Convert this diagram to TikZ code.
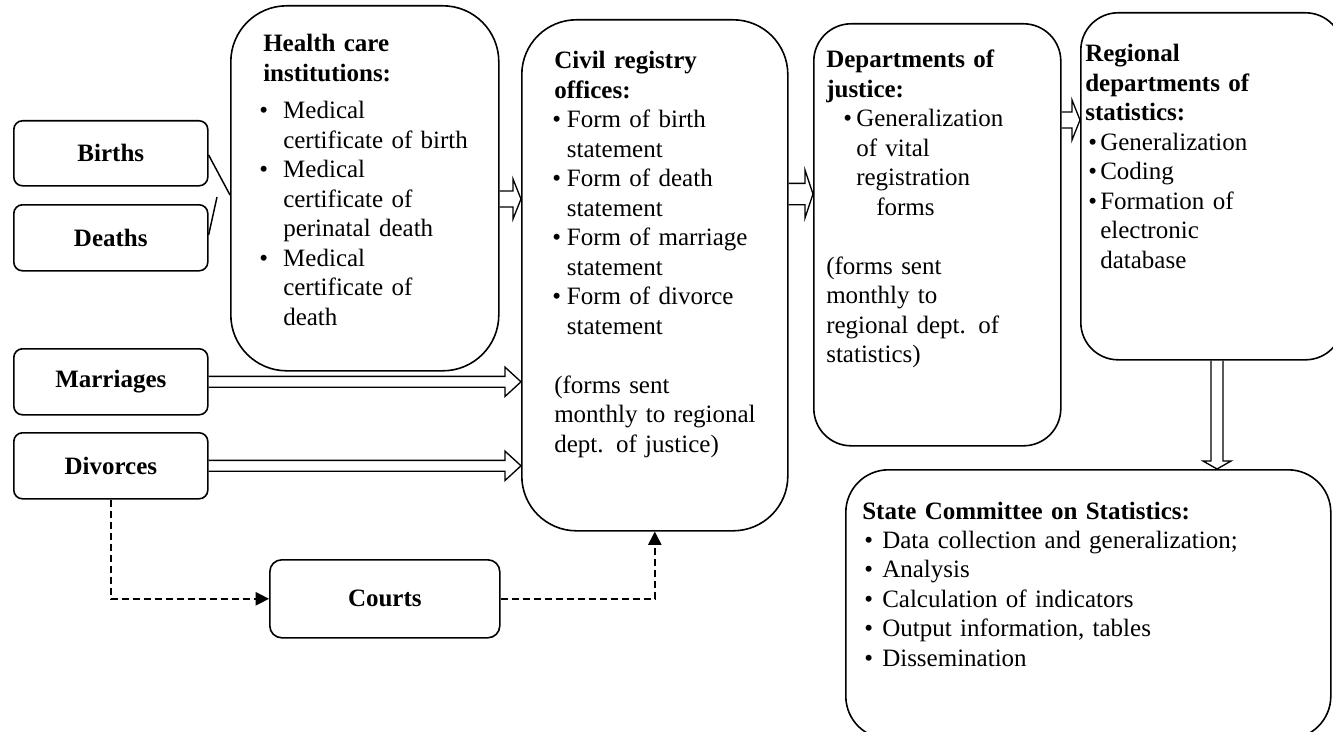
\documentclass[tikz,border=0pt]{standalone}
\usepackage{fontspec}
\setmainfont{Liberation Serif}
\usetikzlibrary{arrows.meta,calc}
\newcommand\bu[3]{\hspace*{#1}\makebox[#2][l]{\textbullet}#3}
\newcommand\cu[2]{\hspace*{#1}#2}
\newcommand\harr[5]{\draw[blk] let \p1=(#1), \p2=(#2) in (\x1,\y1+#3) -- (\x2-#5,\y1+#3) -- (\x2-#5,\y1+#4) -- (\x2,\y1) -- (\x2-#5,\y1-#4) -- (\x2-#5,\y1-#3) -- (\x1,\y1-#3);}
\newcommand\varr[5]{\draw[blk] let \p1=(#1), \p2=(#2) in (\x1-#3,\y1) -- (\x1-#3,\y2+#5) -- (\x1-#4,\y2+#5) -- (\x1,\y2) -- (\x1+#4,\y2+#5) -- (\x1+#3,\y2+#5) -- (\x1+#3,\y1);}
\tikzset{
  px/.style={x=0.75pt,y=-0.75pt},
  sbox/.style={draw, line width=1.2pt, rounded corners=6.5pt, inner sep=0pt, anchor=north west, font=\fontsize{18.75pt}{22.1pt}\selectfont\bfseries},
  bbox/.style={draw, line width=1.2pt, rounded corners=#1, inner sep=0pt, anchor=north west},
  txt/.style={anchor=base west, inner sep=0pt, text width=#1, align=left, font=\fontsize{18.75pt}{22.1pt}\selectfont},
  blk/.style={draw, line width=1pt, line join=miter},
  dconn/.style={dashed, dash pattern=on 5.25pt off 3pt, line width=1.1pt, -{Triangle[length=10pt,width=10pt]}},
  lnk/.style={line width=1.1pt}
}
\begin{document}
\begin{tikzpicture}[px]
\useasboundingbox (0,0) rectangle (1333,731);
\clip (0,0) rectangle (1333,731);
% small boxes
\node[sbox, minimum width=194*0.75pt, minimum height=65*0.75pt] (bir) at (13,120) {Births};
\node[sbox, minimum width=194*0.75pt, minimum height=66*0.75pt] (dea) at (13,204) {Deaths};
\node[sbox, minimum width=194*0.75pt, minimum height=66*0.75pt] (mar) at (13,348) {Marriages};
\node[sbox, minimum width=194*0.75pt, minimum height=66*0.75pt] (div) at (13,432) {Divorces};
\node[sbox, rounded corners=9pt, minimum width=230*0.75pt, minimum height=78*0.75pt] (ct) at (269,559) {Courts};
% big boxes
\node[bbox=42pt, minimum width=268*0.75pt, minimum height=365*0.75pt] (hc) at (230,5) {};
\node[bbox=41pt, minimum width=266*0.75pt, minimum height=511*0.75pt] (cr) at (521,19) {};
\node[bbox=28pt, minimum width=247*0.75pt, minimum height=422*0.75pt] (dj) at (813,23) {};
\node[bbox=28pt, minimum width=262*0.75pt, minimum height=347*0.75pt] (rd) at (1080,12) {};
\node[bbox=32pt, minimum width=485*0.75pt, minimum height=269*0.75pt] (sc) at (845,469) {};
% texts
\node[txt=250pt] (hct) at (259,52) {%
\cu{3pt}{\textbf{Health care}}\\
\cu{3pt}{\textbf{institutions:}}\\[6pt]
\bu{0pt}{18pt}{Medical}\\
\cu{18pt}{certificate of birth}\\
\bu{0pt}{18pt}{Medical}\\
\cu{18pt}{certificate of}\\
\cu{18pt}{perinatal death}\\
\bu{0pt}{18pt}{Medical}\\
\cu{18pt}{certificate of}\\
\cu{18pt}{death}};
\node[txt=250pt] (crt) at (552,69) {%
\cu{1.5pt}{\textbf{Civil registry}}\\
\cu{1.5pt}{\textbf{offices:}}\\
\bu{0pt}{11pt}{Form of birth}\\
\cu{11pt}{statement}\\
\bu{0pt}{11pt}{Form of death}\\
\cu{11pt}{statement}\\
\bu{0pt}{11pt}{Form of marriage}\\
\cu{11pt}{statement}\\
\bu{0pt}{11pt}{Form of divorce}\\
\cu{11pt}{statement}\\[22.1pt]
\cu{1.5pt}{(forms sent}\\
\cu{1.5pt}{monthly to regional}\\
\cu{1.5pt}{dept. of justice)}};
\node[txt=250pt] (djt) at (826,68) {%
\textbf{Departments of}\\
\textbf{justice:}\\
\bu{12.75pt}{9.75pt}{Generalization}\\
\cu{22.5pt}{of vital}\\
\cu{22.5pt}{registration}\\
\cu{37.5pt}{forms}\\[22.1pt]
(forms sent\\
monthly to\\
regional dept. of\\
statistics)};
\node[txt=250pt] (rdt) at (1085,62) {%
\textbf{Regional}\\
\textbf{departments of}\\
\textbf{statistics:}\\
\bu{2.25pt}{9pt}{Generalization}\\
\bu{2.25pt}{9pt}{Coding}\\
\bu{2.25pt}{9pt}{Formation of}\\
\cu{11.25pt}{electronic}\\
\cu{11.25pt}{database}};
\node[txt=350pt] (sct) at (862,519) {%
\textbf{State Committee on Statistics:}\\
\bu{1.5pt}{13.5pt}{Data collection and generalization;}\\
\bu{1.5pt}{13.5pt}{Analysis}\\
\bu{1.5pt}{13.5pt}{Calculation of indicators}\\
\bu{1.5pt}{13.5pt}{Output information, tables}\\
\bu{1.5pt}{13.5pt}{Dissemination}};
% connectors
\coordinate (dtop) at (217,197);
\draw[lnk] (bir.east |- 0,155) -- (hc.west |- 0,195);
\draw[lnk] (dea.east |- 0,235) -- (dtop);
\harr{hc.east |- 0,199}{cr.west |- 0,199}{6pt}{15pt}{6pt}
\harr{cr.east |- 0,194}{dj.west |- 0,194}{8pt}{18pt}{6pt}
\harr{dj.east |- 0,120}{rd.west |- 0,120}{6pt}{15pt}{6pt}
\harr{mar.east}{cr.west |- mar.east}{4.1pt}{11pt}{12pt}
\harr{div.east}{cr.west |- div.east}{4.1pt}{11pt}{12pt}
\varr{rd.south -| 1217,0}{sc.north -| 1217,0}{4.5pt}{10.5pt}{6pt}
\draw[dconn] (div.south) |- (ct.west);
\draw[dconn] (ct.east) -| (cr.south);
\end{tikzpicture}
\end{document}
